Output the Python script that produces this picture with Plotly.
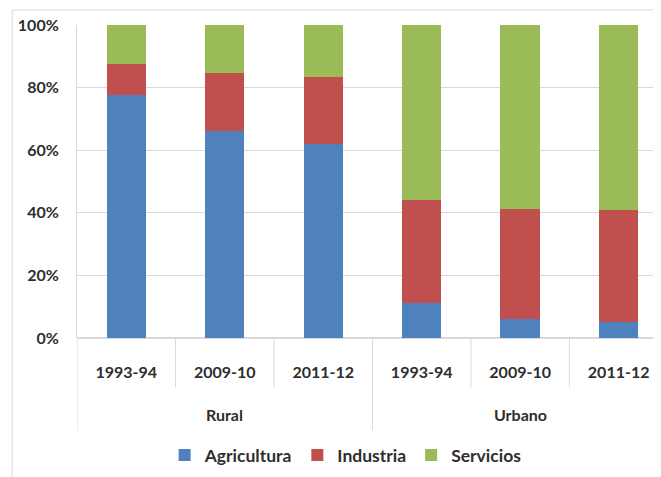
import plotly.graph_objects as go

zones = ["Rural", "Rural", "Rural", "Urbano", "Urbano", "Urbano"]
years = ["1993-94", "2009-10", "2011-12", "1993-94", "2009-10", "2011-12"]
agricultura = [77.5, 66.0, 62.0, 11.3, 6.0, 5.1]
industria = [10.0, 18.6, 21.3, 32.8, 35.1, 35.8]
servicios = [12.5, 15.4, 16.7, 55.9, 58.9, 59.1]
y_ticks = [0, 20, 40, 60, 80, 100]

font_family = "Lato, Open Sans, sans-serif"
txt_color = "#2E2E2E"
line_col = "#D9D9D9"
pos = list(range(len(years)))

fig = go.Figure()
for name, vals, col in [("Agricultura", agricultura, "#4F81BD"),
                        ("Industria", industria, "#C0504D"),
                        ("Servicios", servicios, "#9BBB59")]:
    fig.add_trace(go.Bar(x=pos, y=vals, name=name, marker_color=col,
                         marker_line_width=0))

# dividers: short between years, long between groups and at the ends
for i in range(len(years) + 1):
    left = zones[i - 1] if i > 0 else None
    right = zones[i] if i < len(zones) else None
    long_div = left != right
    fig.add_shape(type="line", xref="x", yref="paper", x0=i - 0.5, x1=i - 0.5,
                  y0=0, y1=-0.294 if long_div else -0.157,
                  line=dict(color=line_col, width=1))

# group labels
groups = []
for z in zones:
    if z not in groups:
        groups.append(z)
for g in groups:
    idx = [i for i, z in enumerate(zones) if z == g]
    fig.add_annotation(x=sum(idx) / len(idx), y=-0.246, xref="x", yref="paper",
                       text=g, showarrow=False, yanchor="middle",
                       font=dict(size=16, family=font_family, color=txt_color, weight="bold"))

# outer chart border
fig.add_shape(type="rect", xref="paper", yref="paper", x0=-0.111, x1=1.2, y0=-0.6, y1=1.048,
              line=dict(color=line_col, width=1), fillcolor="rgba(0,0,0,0)", layer="below")

fig.update_layout(
    width=653, height=469,
    margin=dict(l=69, r=0, t=17, b=139),
    barmode="stack", bargap=0.6,
    plot_bgcolor="white", paper_bgcolor="white",
    font=dict(family=font_family, size=16, color=txt_color, weight="bold"),
    showlegend=True,
    legend=dict(orientation="h", x=0.46, xanchor="center", y=-0.374, yanchor="middle",
                font=dict(size=17.5, family=font_family, color=txt_color, weight="bold"),
                traceorder="normal", itemwidth=30),
    xaxis=dict(range=[-0.5, 5.43], tickmode="array", tickvals=pos, ticktext=years,
               showgrid=False, zeroline=False, showline=False, automargin=False,
               tickfont=dict(size=16, family=font_family, color=txt_color, weight="bold"),
               ticks="", ticklabelstandoff=23),
    yaxis=dict(range=[0, 100], tickmode="array", tickvals=y_ticks,
               ticktext=[f"{v}%" for v in y_ticks], showgrid=True,
               gridcolor=line_col, gridwidth=1, zeroline=True, zerolinecolor=line_col,
               showline=True, linecolor=line_col, linewidth=1, automargin=False,
               tickfont=dict(size=16, family=font_family, color=txt_color, weight="bold"),
               ticklabelstandoff=14),
)

fig.write_html("out.html")
